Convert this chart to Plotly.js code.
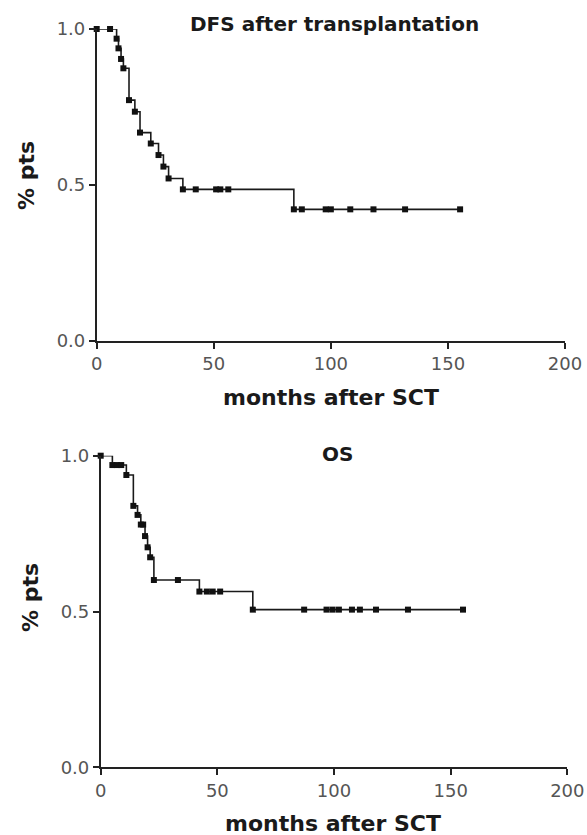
<!DOCTYPE html>
<html>
<head>
<meta charset="utf-8">
<script src="https://cdn.plot.ly/plotly-3.0.1.min.js"></script>
<style>
  html, body { margin: 0; padding: 0; background: #ffffff; }
  #chart { width: 587px; height: 835px; }
</style>
</head>
<body>
<div id="chart"></div>
<script>
// Kaplan-Meier estimates: disease-free survival after transplantation
const dfsMonths = [0, 5.7, 8.5, 9.3, 10.4, 11.4, 13.8, 16.3, 18.5, 23.1, 26.4, 28.5, 30.7, 36.8,
  42.3, 51.0, 52.8, 56.2, 84.2, 87.6, 97.8, 100.0, 108.3, 118.2, 131.7, 155.2];
const dfsSurvival = [1, 1, 0.969, 0.938, 0.904, 0.874, 0.772, 0.735, 0.668, 0.633, 0.596, 0.559, 0.521, 0.486,
  0.486, 0.486, 0.486, 0.486, 0.422, 0.422, 0.422, 0.422, 0.422, 0.422, 0.422, 0.422];

// Kaplan-Meier estimates: overall survival
const osMonths = [0, 5.0, 7.0, 8.8, 11.0, 14.0, 15.8, 17.2, 18.2, 19.0, 20.1, 21.2, 22.8, 33.1,
  42.3, 45.5, 48.0, 51.2, 65.2, 87.2, 96.8, 99.4, 102.1, 107.7, 111.1, 118.0, 131.7, 155.3];
const osSurvival = [1, 0.970, 0.970, 0.970, 0.938, 0.839, 0.810, 0.779, 0.779, 0.742, 0.706, 0.674, 0.601, 0.601,
  0.564, 0.564, 0.564, 0.564, 0.506, 0.506, 0.506, 0.506, 0.506, 0.506, 0.506, 0.506, 0.506, 0.506];

const xTickVals = [0, 50, 100, 150, 200];
const xTickText = ['0', '50', '100', '150', '200'];
const yTickVals = [0, 0.5, 1];
const yTickText = ['0.0', '0.5', '1.0'];

const W = 587, H = 835;
const px = v => v / W;          // horizontal pixel -> paper fraction
const py = v => 1 - v / H;      // vertical pixel (from top) -> paper fraction

const curveStyle = {
  type: 'scatter',
  mode: 'lines+markers',
  line: { shape: 'hv', color: '#1a1a1a', width: 1.6 },
  marker: { symbol: 'square', size: 6, color: '#111111' },
  cliponaxis: false,
  hoverinfo: 'x+y',
  showlegend: false
};

const traces = [
  Object.assign({}, curveStyle, { x: dfsMonths, y: dfsSurvival, xaxis: 'x', yaxis: 'y', name: 'DFS' }),
  Object.assign({}, curveStyle, { x: osMonths, y: osSurvival, xaxis: 'x2', yaxis: 'y2', name: 'OS' })
];

const tickFont = { family: 'DejaVu Sans, sans-serif', size: 18, color: '#555555' };
const titleFont = { family: 'DejaVu Sans, sans-serif', size: 20, color: '#1a1a1a', weight: 'bold' };
const axisTitleFont = { family: 'DejaVu Sans, sans-serif', size: 22, color: '#1a1a1a', weight: 'bold' };

function xAxis(domain, anchor) {
  return {
    domain: domain, anchor: anchor, range: [0, 200],
    tickmode: 'array', tickvals: xTickVals, ticktext: xTickText,
    ticks: 'outside', ticklen: 6, tickwidth: 1.6, tickcolor: '#222222',
    showline: true, linecolor: '#222222', linewidth: 1.6,
    showgrid: false, zeroline: false, tickfont: tickFont, automargin: false
  };
}
function yAxis(domain, anchor) {
  return {
    domain: domain, anchor: anchor, range: [0, 1],
    tickmode: 'array', tickvals: yTickVals, ticktext: yTickText,
    ticks: 'outside', ticklen: 6, tickwidth: 1.6, tickcolor: '#222222',
    showline: true, linecolor: '#222222', linewidth: 1.6,
    showgrid: false, zeroline: false, tickfont: tickFont, automargin: false
  };
}

const layout = {
  width: W, height: H,
  margin: { l: 0, r: 0, t: 0, b: 0 },
  paper_bgcolor: '#ffffff', plot_bgcolor: '#ffffff',
  xaxis: xAxis([px(96.7), px(565)], 'y'),
  yaxis: yAxis([py(341), py(29)], 'x'),
  xaxis2: xAxis([px(100.7), px(567.3)], 'y2'),
  yaxis2: yAxis([py(767.3), py(455.7)], 'x2'),
  annotations: [
    { text: 'DFS after transplantation', x: px(334), y: py(24), xref: 'paper', yref: 'paper',
      xanchor: 'center', yanchor: 'middle', showarrow: false, font: titleFont },
    { text: 'months after SCT', x: px(331), y: py(398), xref: 'paper', yref: 'paper',
      xanchor: 'center', yanchor: 'middle', showarrow: false, font: axisTitleFont },
    { text: '% pts', x: px(26), y: py(176), xref: 'paper', yref: 'paper', textangle: -90,
      xanchor: 'center', yanchor: 'middle', showarrow: false, font: axisTitleFont },
    { text: 'OS', x: px(337), y: py(454), xref: 'paper', yref: 'paper',
      xanchor: 'center', yanchor: 'middle', showarrow: false, font: titleFont },
    { text: 'months after SCT', x: px(333), y: py(823), xref: 'paper', yref: 'paper',
      xanchor: 'center', yanchor: 'middle', showarrow: false, font: axisTitleFont },
    { text: '% pts', x: px(30), y: py(598), xref: 'paper', yref: 'paper', textangle: -90,
      xanchor: 'center', yanchor: 'middle', showarrow: false, font: axisTitleFont }
  ]
};

Plotly.newPlot('chart', traces, layout, { displayModeBar: false, responsive: false });
</script>
</body>
</html>
